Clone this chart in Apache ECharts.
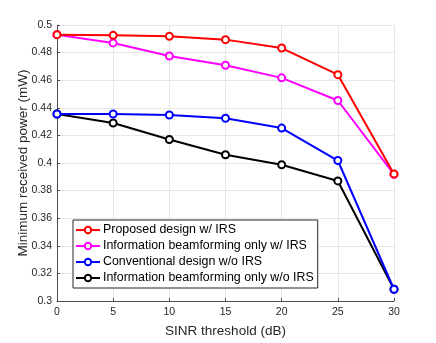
<!DOCTYPE html>
<html>
<head>
<meta charset="UTF-8" />
<script src="https://cdn.jsdelivr.net/npm/echarts@6/dist/echarts.min.js"></script>
<style>
  html, body { margin:0; padding:0; width:100%; height:100%; background:#fff; overflow:hidden; }
  #chart { width:436px; height:343px; }
</style>
</head>
<body>
<div id="chart"></div>
<script>
// SINR threshold (dB)
const sinr = [0, 5, 10, 15, 20, 25, 30];

// minimum received power (mW)
const proposedIRS = [0.493, 0.4925, 0.4918, 0.4894, 0.4833, 0.4640, 0.3920];
const infoBfIRS   = [0.493, 0.4870, 0.4775, 0.4708, 0.4617, 0.4453, 0.3918];
const convNoIRS   = [0.4355, 0.4355, 0.4348, 0.4324, 0.4253, 0.4018, 0.3085];
const infoBfNoIRS = [0.4355, 0.4290, 0.4170, 0.4060, 0.3987, 0.3870, 0.3085];

const seriesNames = [
  'Proposed design w/ IRS',
  'Information beamforming only w/ IRS',
  'Conventional design w/o IRS',
  'Information beamforming only w/o IRS'
];
const seriesData = [proposedIRS, infoBfIRS, convNoIRS, infoBfNoIRS];
const colors = ['#ff0000', '#ff00ff', '#0000ff', '#000000'];

const font = 'Liberation Sans, Arial, sans-serif';

const chart = echarts.init(document.getElementById('chart'));
chart.setOption({
  animation: false,
  grid: { left: 57, right: 42, top: 25, bottom: 38 },
  legend: {
    orient: 'vertical',
    left: 73, top: 220,
    itemWidth: 24, itemHeight: 8,
    itemGap: 4,
    padding: [4, 4, 4, 2],
    borderColor: '#262626', borderWidth: 1,
    backgroundColor: '#fff',
    textStyle: { fontFamily: font, fontSize: 12.4, color: '#000', padding: [0, 0, 0, -2] },
    data: seriesNames
  },
  xAxis: {
    type: 'value', min: 0, max: 30, interval: 5,
    name: 'SINR threshold (dB)', nameLocation: 'middle', nameGap: 23,
    nameMoveOverlap: false,
    nameTextStyle: { fontFamily: font, fontSize: 13.5, color: '#262626' },
    axisLine: { lineStyle: { color: '#4d4d4d', width: 1 } },
    axisTick: { show: true, inside: true, length: 3, lineStyle: { color: '#4d4d4d' } },
    axisLabel: { fontFamily: font, fontSize: 10.5, color: '#262626', margin: 6 },
    splitLine: { show: true, lineStyle: { color: '#e6e6e6', width: 1 } }
  },
  yAxis: {
    type: 'value', min: 0.3, max: 0.5, interval: 0.02,
    name: 'Minimum received power (mW)', nameLocation: 'middle', nameGap: 27,
    nameMoveOverlap: false,
    nameTextStyle: { fontFamily: font, fontSize: 13.5, color: '#262626' },
    axisLine: { show: true, lineStyle: { color: '#4d4d4d', width: 1 } },
    axisTick: { show: true, inside: true, length: 3, lineStyle: { color: '#4d4d4d' } },
    axisLabel: {
      fontFamily: font, fontSize: 10.5, color: '#262626', margin: 5,
      formatter: v => String(Math.round(v * 100) / 100)
    },
    splitLine: { show: true, lineStyle: { color: '#e6e6e6', width: 1 } }
  },
  series: seriesNames.map((name, i) => ({
    name,
    type: 'line',
    data: sinr.map((x, j) => [x, seriesData[i][j]]),
    symbol: 'emptyCircle',
    symbolSize: 7,
    lineStyle: { color: colors[i], width: 2 },
    itemStyle: { color: colors[i], borderColor: colors[i], borderWidth: 2 },
    z: 10 - i
  }))
});
</script>
</body>
</html>
